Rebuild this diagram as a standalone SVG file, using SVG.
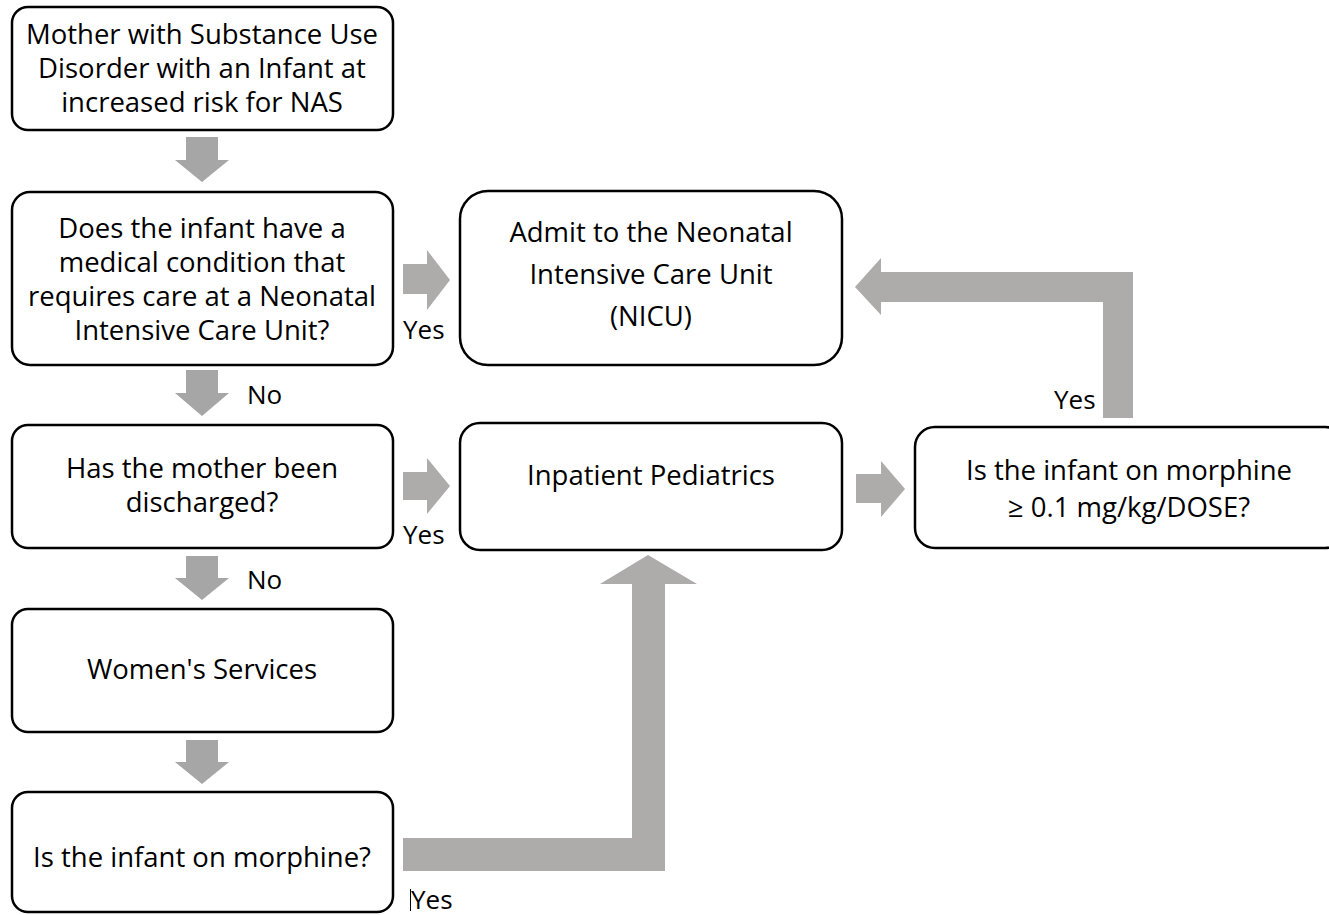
<svg xmlns="http://www.w3.org/2000/svg" width="1329" height="915" viewBox="0 0 1329 915">
<style>
.box{fill:#fff;stroke:#000;stroke-width:2.5}
.t{font-family:"Open Sans","Noto Sans","Liberation Sans",sans-serif;font-size:27.5px;fill:#000;text-anchor:middle}
.l{font-family:"Open Sans","Noto Sans","Liberation Sans",sans-serif;font-size:26px;fill:#000}
.ar{fill:#a6a6a6}
.ar2{fill:#aeabab}
</style>
<rect width="1329" height="915" fill="#fff"/>
<g id="connectors">
<polygon class="ar" points="186,137 218,137 218,160 229,160 202,182 175,160 186,160"/>
<polygon class="ar" points="186,370 218,370 218,393 229,393 202,416 175,393 186,393"/>
<polygon class="ar" points="186,556 218,556 218,578 229,578 202,600 175,578 186,578"/>
<polygon class="ar" points="186,740 218,740 218,762 229,762 202,784 175,762 186,762"/>
<polygon class="ar2" points="403,264 427,264 427,250 450,280 427,310 427,294 403,294"/>
<polygon class="ar2" points="403,472 427,472 427,458 450,486 427,514 427,500 403,500"/>
<polygon class="ar2" points="856,474 881,474 881,461 905,489 881,517 881,503 856,503"/>
<polygon class="ar2" points="403,838 632,838 632,584 600,584 648,555 697,584 665,584 665,871 403,871"/>
<polygon class="ar2" points="1133,272 1133,418 1103,418 1103,302 881,302 881,315 855,287 881,258 881,272"/>
<line x1="410.5" y1="889" x2="410.5" y2="911" stroke="#000" stroke-width="1"/>
</g>
<g id="n1"><rect class="box" x="12" y="7" width="381" height="123" rx="16"/>
<text class="t" x="202" y="44">Mother with Substance Use</text>
<text class="t" x="202" y="78">Disorder with an Infant at</text>
<text class="t" x="202" y="112">increased risk for NAS</text></g>
<g id="n2"><rect class="box" x="12" y="192" width="381" height="173" rx="18"/>
<text class="t" x="202" y="238">Does the infant have a</text>
<text class="t" x="202" y="272">medical condition that</text>
<text class="t" x="202" y="306">requires care at a Neonatal</text>
<text class="t" x="202" y="340">Intensive Care Unit?</text></g>
<g id="n3"><rect class="box" x="460" y="191" width="382" height="174" rx="28"/>
<text class="t" x="651" y="242">Admit to the Neonatal</text>
<text class="t" x="651" y="284">Intensive Care Unit</text>
<text class="t" x="651" y="326">(NICU)</text></g>
<g id="n4"><rect class="box" x="12" y="425" width="381" height="123" rx="16"/>
<text class="t" x="202" y="478">Has the mother been</text>
<text class="t" x="202" y="512">discharged?</text></g>
<g id="n5"><rect class="box" x="460" y="423" width="382" height="127" rx="20"/>
<text class="t" x="651" y="485">Inpatient Pediatrics</text></g>
<g id="n6"><rect class="box" x="915" y="427" width="430" height="121" rx="20"/>
<text class="t" x="1129" y="480">Is the infant on morphine</text>
<text class="t" x="1129" y="517">≥ 0.1 mg/kg/DOSE?</text></g>
<g id="n7"><rect class="box" x="12" y="609" width="381" height="123" rx="16"/>
<text class="t" x="202" y="679">Women's Services</text></g>
<g id="n8"><rect class="box" x="12" y="792" width="381" height="120" rx="16"/>
<text class="t" x="202" y="867">Is the infant on morphine?</text></g>
<g id="labels">
<text class="l" x="403" y="339">Yes</text>
<text class="l" x="247" y="404">No</text>
<text class="l" x="403" y="544">Yes</text>
<text class="l" x="247" y="589">No</text>
<text class="l" x="1054" y="409">Yes</text>
<text class="l" x="411" y="909">Yes</text>
</g>
</svg>
